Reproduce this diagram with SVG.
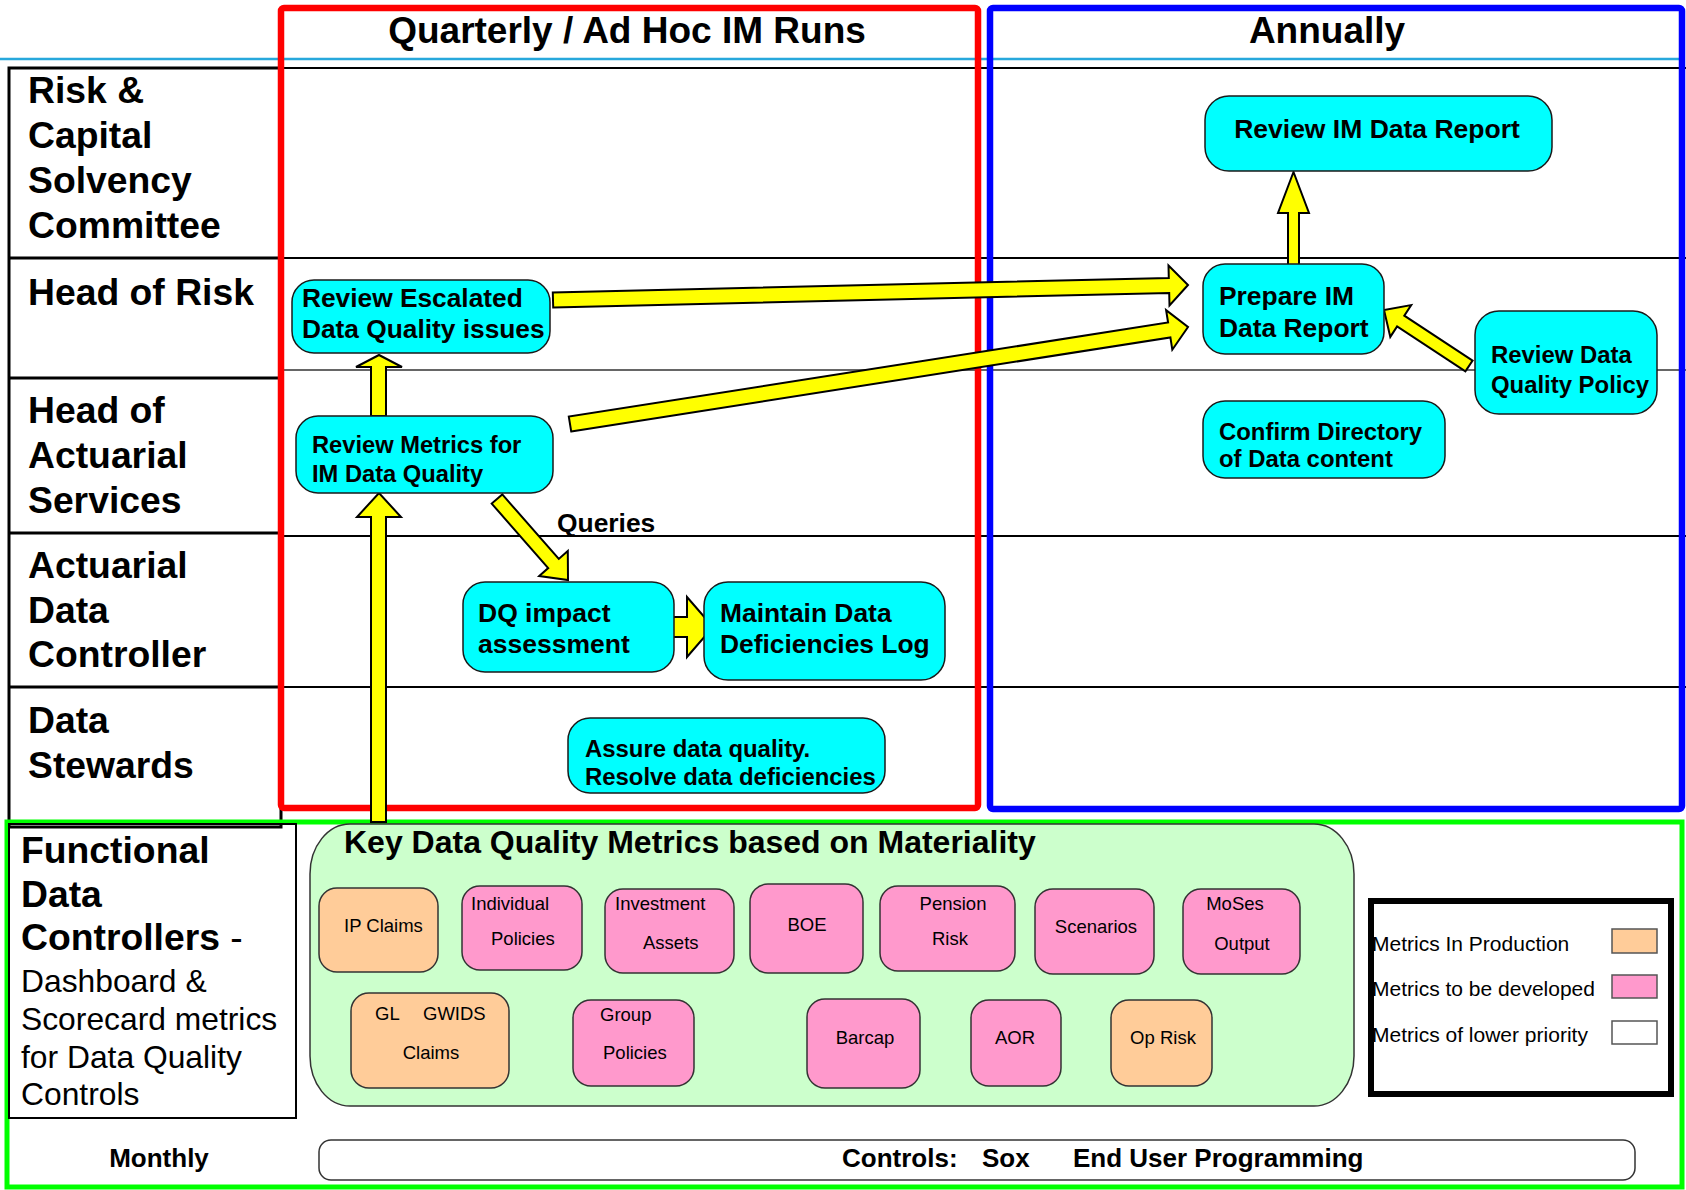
<svg xmlns="http://www.w3.org/2000/svg" width="1686" height="1190" viewBox="0 0 1686 1190">
  <defs>
    <style>
      text { font-family: "Liberation Sans", Arial, sans-serif; fill: #000; }
      .lane { font-size: 37.3px; font-weight: bold; }
      .lane-sub { font-size: 31.8px; }
      .hdr { font-size: 37px; font-weight: bold; }
      .task rect { fill: #00ffff; stroke: #1a1a1a; stroke-width: 1.5; }
      .task text { font-weight: bold; }
      .metric rect { stroke: #333; stroke-width: 1.5; }
      .metric text { font-size: 18.5px; }
      .prod { fill: #ffcc99; }
      .dev { fill: #ff99cc; }
      .arrow { fill: #ffff00; stroke: #000; stroke-width: 2; stroke-linejoin: miter; }
      .rule { stroke: #000; stroke-width: 2; }
      .rule-lane { stroke: #000; stroke-width: 3; }
      .legend-text { font-size: 21px; }
    </style>
  </defs>

  <rect x="0" y="0" width="1686" height="1190" fill="#fff"/>

  <!-- table grid -->
  <g id="grid" fill="none">
    <line x1="0" y1="59" x2="1680" y2="59" stroke="#27a8dc" stroke-width="2.5"/>
    <line class="rule" x1="9" y1="68" x2="1686" y2="68"/>
    <line class="rule" x1="9" y1="258" x2="1686" y2="258"/>
    <line x1="281" y1="370" x2="1686" y2="370" stroke="#333" stroke-width="1.5"/>
    <line class="rule" x1="281" y1="536" x2="1686" y2="536"/>
    <line class="rule" x1="9" y1="687" x2="1686" y2="687"/>
    <rect class="rule-lane" x="9" y="68" width="272" height="759"/>
    <line class="rule-lane" x1="9" y1="258" x2="281" y2="258"/>
    <line class="rule-lane" x1="9" y1="378" x2="281" y2="378"/>
    <line class="rule-lane" x1="9" y1="533" x2="281" y2="533"/>
    <line class="rule-lane" x1="9" y1="687" x2="281" y2="687"/>
  </g>

  <!-- swimlane titles -->
  <g id="lane-committee" class="lane">
    <text x="28" y="103">Risk &amp;</text>
    <text x="28" y="148">Capital</text>
    <text x="28" y="193">Solvency</text>
    <text x="28" y="238">Committee</text>
  </g>
  <g id="lane-head-risk" class="lane">
    <text x="28" y="305">Head of Risk</text>
  </g>
  <g id="lane-head-actuarial" class="lane">
    <text x="28" y="423">Head of</text>
    <text x="28" y="468">Actuarial</text>
    <text x="28" y="513">Services</text>
  </g>
  <g id="lane-data-controller" class="lane">
    <text x="28" y="578">Actuarial</text>
    <text x="28" y="623">Data</text>
    <text x="28" y="667">Controller</text>
  </g>
  <g id="lane-stewards" class="lane">
    <text x="28" y="733">Data</text>
    <text x="28" y="778">Stewards</text>
  </g>

  <!-- monthly band -->
  <rect x="7" y="822" width="1675" height="365" fill="none" stroke="#00ff00" stroke-width="5"/>
  <g id="lane-functional">
    <rect x="9" y="824" width="287" height="294" fill="none" stroke="#000" stroke-width="2"/>
    <text class="lane" x="21" y="863">Functional</text>
    <text class="lane" x="21" y="907">Data</text>
    <text class="lane" x="21" y="950">Controllers <tspan font-weight="normal">-</tspan></text>
    <text class="lane-sub" x="21" y="992">Dashboard &amp;</text>
    <text class="lane-sub" x="21" y="1030">Scorecard metrics</text>
    <text class="lane-sub" x="21" y="1068">for Data Quality</text>
    <text class="lane-sub" x="21" y="1105">Controls</text>
  </g>

  <g id="metrics-panel">
    <rect x="310" y="824" width="1044" height="282" rx="40" ry="50" fill="#ccffcc" stroke="#333" stroke-width="1.5"/>
    <text x="344" y="853" font-size="32" font-weight="bold">Key Data Quality Metrics based on Materiality</text>
  </g>

  <g id="m-ip-claims" class="metric">
    <rect class="prod" x="319" y="888" width="119" height="84" rx="18"/>
    <text x="344" y="932">IP Claims</text>
  </g>
  <g id="m-individual-policies" class="metric">
    <rect class="dev" x="462" y="886" width="120" height="84" rx="18"/>
    <text x="471" y="910">Individual</text>
    <text x="491" y="945">Policies</text>
  </g>
  <g id="m-investment-assets" class="metric">
    <rect class="dev" x="605" y="889" width="129" height="84" rx="18"/>
    <text x="615" y="910">Investment</text>
    <text x="643" y="949">Assets</text>
  </g>
  <g id="m-boe" class="metric">
    <rect class="dev" x="750" y="884" width="113" height="89" rx="18"/>
    <text x="807" y="931" text-anchor="middle">BOE</text>
  </g>
  <g id="m-pension-risk" class="metric">
    <rect class="dev" x="880" y="886" width="135" height="85" rx="18"/>
    <text x="953" y="910" text-anchor="middle">Pension</text>
    <text x="950" y="945" text-anchor="middle">Risk</text>
  </g>
  <g id="m-scenarios" class="metric">
    <rect class="dev" x="1035" y="889" width="119" height="85" rx="18"/>
    <text x="1096" y="933" text-anchor="middle">Scenarios</text>
  </g>
  <g id="m-moses-output" class="metric">
    <rect class="dev" x="1183" y="889" width="117" height="85" rx="18"/>
    <text x="1235" y="910" text-anchor="middle">MoSes</text>
    <text x="1242" y="950" text-anchor="middle">Output</text>
  </g>
  <g id="m-gl-gwids-claims" class="metric">
    <rect class="prod" x="351" y="993" width="158" height="95" rx="18"/>
    <text x="375" y="1020">GL</text>
    <text x="423" y="1020">GWIDS</text>
    <text x="431" y="1059" text-anchor="middle">Claims</text>
  </g>
  <g id="m-group-policies" class="metric">
    <rect class="dev" x="573" y="1000" width="121" height="86" rx="18"/>
    <text x="600" y="1021">Group</text>
    <text x="603" y="1059">Policies</text>
  </g>
  <g id="m-barcap" class="metric">
    <rect class="dev" x="807" y="999" width="113" height="89" rx="18"/>
    <text x="865" y="1044" text-anchor="middle">Barcap</text>
  </g>
  <g id="m-aor" class="metric">
    <rect class="dev" x="971" y="1000" width="90" height="86" rx="18"/>
    <text x="1015" y="1044" text-anchor="middle">AOR</text>
  </g>
  <g id="m-op-risk" class="metric">
    <rect class="prod" x="1111" y="1000" width="101" height="86" rx="18"/>
    <text x="1163" y="1044" text-anchor="middle">Op Risk</text>
  </g>

  <!-- key -->
  <g id="legend">
    <rect x="1371" y="901" width="300" height="193" fill="#fff" stroke="#000" stroke-width="6"/>
    <text class="legend-text" x="1372" y="951">Metrics In Production</text>
    <text class="legend-text" x="1372" y="996">Metrics to be developed</text>
    <text class="legend-text" x="1372" y="1042">Metrics of lower priority</text>
    <rect class="prod" x="1612" y="929" width="45" height="24" stroke="#555" stroke-width="1.5"/>
    <rect class="dev" x="1612" y="975" width="45" height="23" stroke="#555" stroke-width="1.5"/>
    <rect x="1612" y="1021" width="45" height="23" fill="#fff" stroke="#555" stroke-width="1.5"/>
  </g>

  <g id="monthly-label">
    <text x="159" y="1167" font-size="26" font-weight="bold" text-anchor="middle">Monthly</text>
  </g>
  <g id="controls-bar">
    <rect x="319" y="1140" width="1316" height="40" rx="12" fill="#fff" stroke="#333" stroke-width="1.5"/>
    <text x="842" y="1167" font-size="26" font-weight="bold">Controls:</text>
    <text x="982" y="1167" font-size="26" font-weight="bold">Sox</text>
    <text x="1073" y="1167" font-size="26" font-weight="bold">End User Programming</text>
  </g>

  <!-- frequency frames -->
  <g id="frame-quarterly">
    <rect x="281" y="8" width="697" height="800" fill="none" stroke="#ff0000" stroke-width="6.5" rx="3"/>
    <text class="hdr" x="627" y="43" text-anchor="middle">Quarterly / Ad Hoc IM Runs</text>
  </g>
  <g id="frame-annually">
    <rect x="990" y="8" width="692" height="801" fill="none" stroke="#0000ff" stroke-width="6.5" rx="3"/>
    <text class="hdr" x="1327" y="43" text-anchor="middle">Annually</text>
  </g>

  <!-- block arrows -->
  <g id="connectors">
    <polygon class="arrow" points="371,822 371,517 357,517 379,493 401,517 386,517 386,822"/>
    <polygon class="arrow" points="371,416 371,367 356,367 379,355 402,367 386,367 386,416"/>
    <polygon class="arrow" points="553.2,307.5 1169.2,292.9 1169.5,305.4 1188,285 1168.5,265.5 1168.8,278 552.8,292.5"/>
    <polygon class="arrow" points="571.2,431.4 1170.4,337.4 1172.3,349.7 1188,327 1166.1,310.2 1168.1,322.5 568.8,416.6"/>
    <polygon class="arrow" points="1288,265 1288,213 1278,213 1293.5,172 1309,213 1299,213 1299,265"/>
    <polygon class="arrow" points="1472.6,360.6 1404.3,315.6 1411.2,305.1 1384,310 1390.3,336.9 1397.1,326.4 1465.4,371.4"/>
    <polygon class="arrow" points="491.7,503.6 548.2,568.1 539.2,576 568,580 567.8,551 558.8,558.9 502.3,494.4"/>
    <polygon class="arrow" points="658,617 687,617 687,597 713,627 687,657 687,637 658,637"/>
    <text x="557" y="532" font-size="26.4" font-weight="bold">Queries</text>
  </g>

  <!-- process steps -->
  <g id="review-im-data-report" class="task">
    <rect x="1205" y="96" width="347" height="75" rx="24"/>
    <text x="1377" y="138" font-size="26.5" text-anchor="middle">Review IM Data Report</text>
  </g>
  <g id="prepare-im-data-report" class="task">
    <rect x="1203" y="264" width="181" height="90" rx="22"/>
    <text x="1219" y="305" font-size="26.4">Prepare IM</text>
    <text x="1219" y="337" font-size="26.4">Data Report</text>
  </g>
  <g id="review-dq-policy" class="task">
    <rect x="1475" y="311" width="182" height="103" rx="24"/>
    <text x="1491" y="363" font-size="23.9">Review Data</text>
    <text x="1491" y="393" font-size="23.9">Quality Policy</text>
  </g>
  <g id="confirm-directory" class="task">
    <rect x="1203" y="401" width="242" height="77" rx="22"/>
    <text x="1219" y="440" font-size="23.9">Confirm Directory</text>
    <text x="1219" y="467" font-size="23.9">of Data content</text>
  </g>
  <g id="review-escalated" class="task">
    <rect x="292" y="280" width="258" height="73" rx="22"/>
    <text x="302" y="307" font-size="26.3">Review Escalated</text>
    <text x="302" y="338" font-size="26.3">Data Quality issues</text>
  </g>
  <g id="review-metrics" class="task">
    <rect x="296" y="416" width="257" height="77" rx="22"/>
    <text x="312" y="453" font-size="23.7">Review Metrics for</text>
    <text x="312" y="482" font-size="23.7">IM Data Quality</text>
  </g>
  <g id="dq-impact" class="task">
    <rect x="463" y="582" width="211" height="90" rx="22"/>
    <text x="478" y="622" font-size="26.5">DQ impact</text>
    <text x="478" y="653" font-size="26.5">assessment</text>
  </g>
  <g id="maintain-log" class="task">
    <rect x="704" y="582" width="241" height="98" rx="24"/>
    <text x="720" y="622" font-size="26.4">Maintain Data</text>
    <text x="720" y="653" font-size="26.4">Deficiencies Log</text>
  </g>
  <g id="assure-quality" class="task">
    <rect x="568" y="718" width="317" height="75" rx="22"/>
    <text x="585" y="757" font-size="23.9">Assure data quality.</text>
    <text x="585" y="785" font-size="23.9">Resolve data deficiencies</text>
  </g>
</svg>
